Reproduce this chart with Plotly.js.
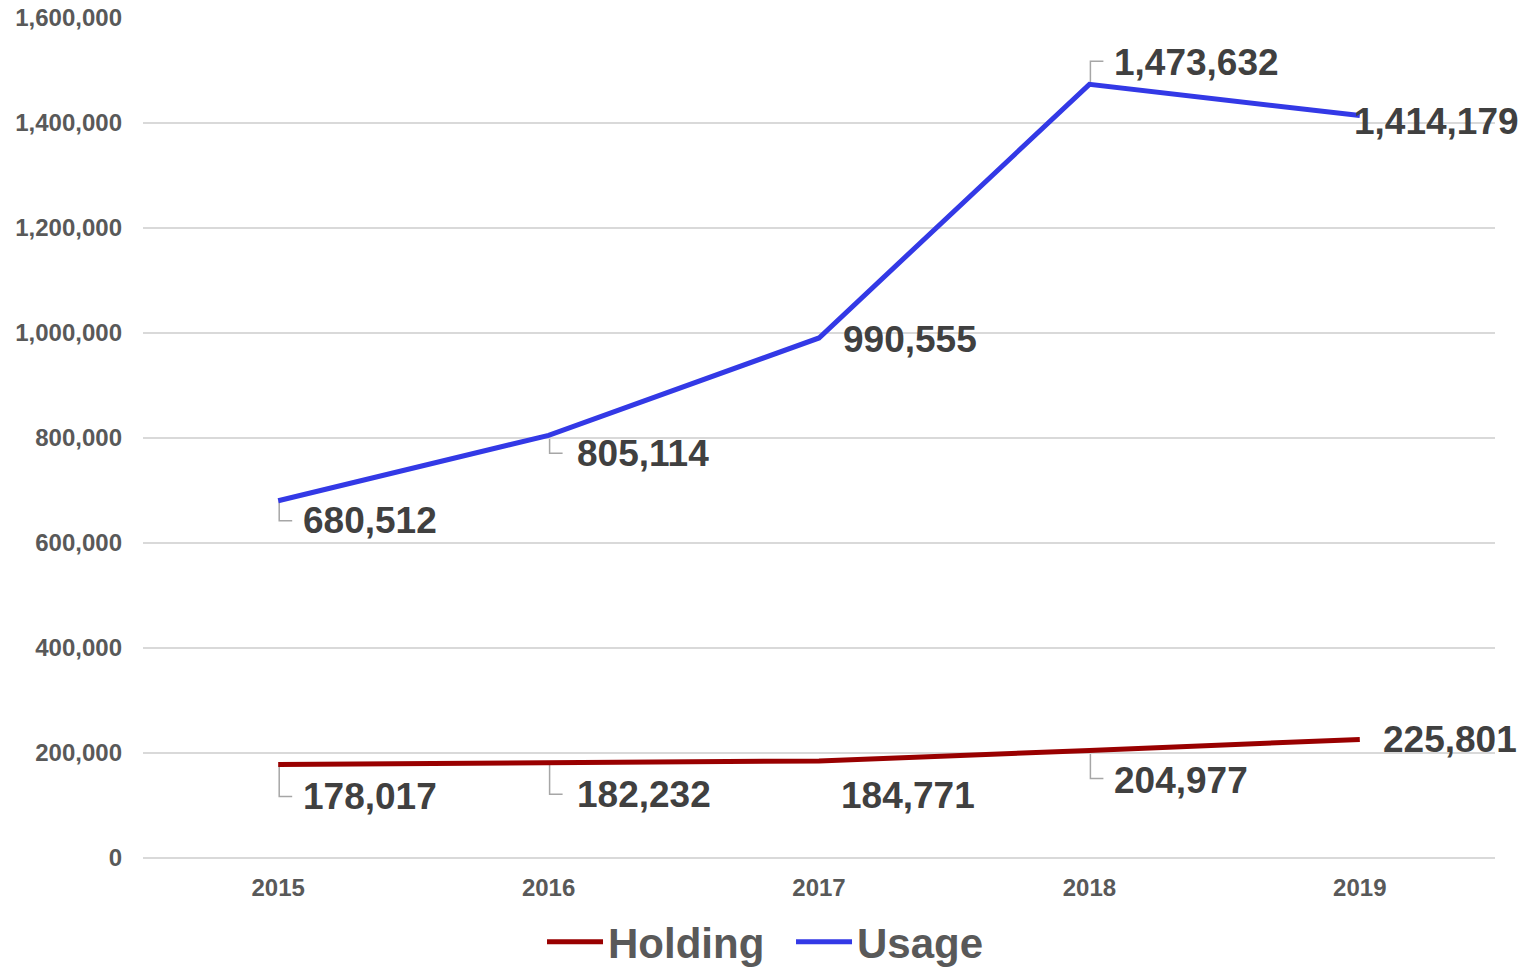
<!DOCTYPE html>
<html>
<head>
<meta charset="utf-8">
<script src="https://cdn.plot.ly/plotly-3.0.1.min.js"></script>
<style>html,body{margin:0;padding:0;background:#fff;}#chart{width:1522px;height:970px;}</style>
</head>
<body>
<div id="chart"></div>
<script>
const years = ["2015", "2016", "2017", "2018", "2019"];
const holding = [178017, 182232, 184771, 204977, 225801];
const usage = [680512, 805114, 990555, 1473632, 1414179];
const yTickVals = [0, 200000, 400000, 600000, 800000, 1000000, 1200000, 1400000, 1600000];

// label placement (pixel offsets from each point) and leader lines
const usageLabelShift = [[23,-20],[26,-18],[22,-2],[23,22],[-8,-6]];
const holdingLabelShift = [[23,-32],[26,-32],[20,-34],[23,-30],[21,0]];
const usageLeader = [-20, -18, null, 23, null];
const holdingLeader = [-32, -32, null, -28, null];

const fmt = v => v.toLocaleString('en-US');
const labelFont = {family: 'Arial, "Liberation Sans", sans-serif', size: 37, color: '#404040', weight: 'bold'};

const annotations = [];
const shapes = [];
function addLabels(vals, shifts, leaders) {
  vals.forEach((v, i) => {
    annotations.push({
      x: i, y: v, xref: 'x', yref: 'y', text: fmt(v), showarrow: false,
      xanchor: 'left', yanchor: 'middle', xshift: shifts[i][0], yshift: shifts[i][1],
      font: labelFont
    });
    if (leaders[i] !== null) {
      const d = leaders[i];
      shapes.push({
        type: 'path', xref: 'x', yref: 'y', xsizemode: 'pixel', ysizemode: 'pixel',
        xanchor: i, yanchor: v,
        path: 'M1,0 L1,' + d + ' L14,' + d,
        line: {color: '#a6a6a6', width: 1.5}, layer: 'below'
      });
    }
  });
}
addLabels(usage, usageLabelShift, usageLeader);
addLabels(holding, holdingLabelShift, holdingLeader);

const traces = [
  {x: years, y: holding, name: 'Holding', type: 'scatter', mode: 'lines',
   line: {color: '#990000', width: 5}, cliponaxis: false},
  {x: years, y: usage, name: 'Usage', type: 'scatter', mode: 'lines',
   line: {color: '#3339E6', width: 5}, cliponaxis: false}
];

const tickFont = {family: 'Arial, "Liberation Sans", sans-serif', size: 24, color: '#595959', weight: 'bold'};

const layout = {
  width: 1522, height: 970,
  margin: {l: 143, r: 27, t: 18, b: 112},
  paper_bgcolor: '#ffffff', plot_bgcolor: '#ffffff',
  showlegend: true,
  legend: {orientation: 'h', x: 0.4793, xanchor: 'center', xref: 'paper', yref: 'container', y: 0.064, yanchor: 'top',
           font: {family: 'Arial, "Liberation Sans", sans-serif', size: 42, color: '#595959', weight: 'bold'},
           itemwidth: 56, entrywidth: 178, tracegroupgap: 0},
  xaxis: {type: 'category', range: [-0.5, 4.5], showgrid: false, zeroline: false,
          showline: false, ticks: '', tickfont: tickFont, ticklabelstandoff: 13, fixedrange: true},
  yaxis: {range: [0, 1600000], tickvals: yTickVals, tickformat: ',d', showgrid: true,
          gridcolor: '#d9d9d9', gridwidth: 1.5, zeroline: true, zerolinecolor: '#d9d9d9', zerolinewidth: 1.5,
          showline: false, ticks: '', tickfont: tickFont, ticklabelstandoff: 20, fixedrange: true},
  annotations: annotations,
  shapes: shapes
};

Plotly.newPlot('chart', traces, layout, {displayModeBar: false, staticPlot: true});
</script>
</body>
</html>
